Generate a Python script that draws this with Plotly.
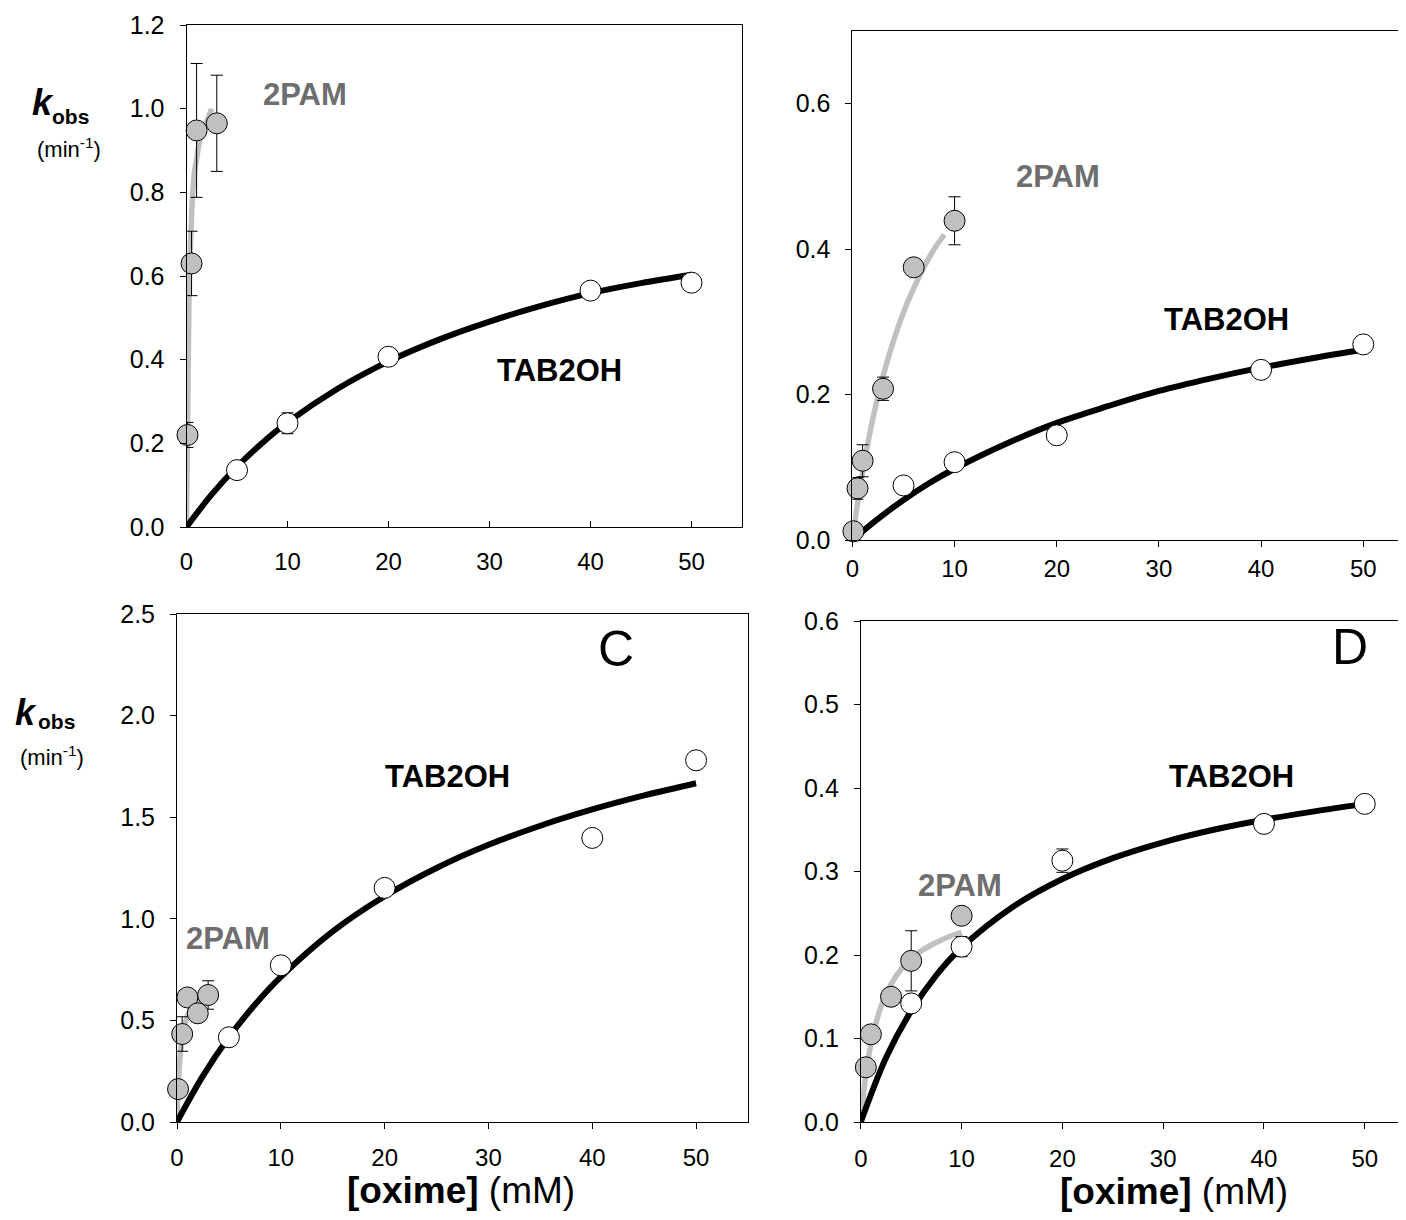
import plotly.graph_objects as go

# The page body has an 8px margin, so the figure is 16px smaller than the window
OFF = 8
W, H = 1406 - 2 * OFF, 1220 - 2 * OFF
FONT = "Liberation Sans, Arial, sans-serif"
PAM_FILL = "#c0c0c0"
PAM_LINE = "#c0c0c0"
PAM_TEXT = "#6e6e6e"


def fx(px):
    return (px - OFF) / W


def fy(py):
    return 1 - (py - OFF) / H


# ---------------- Panel A ----------------
a_pam_x = [0.1, 0.5, 1, 3]
a_pam_y = [0.22, 0.63, 0.948, 0.965]
a_pam_err = [0.03, 0.077, 0.16, 0.115]
a_pam_fit_x = [0, 0.05, 0.1, 0.2, 0.3, 0.45, 0.6, 0.8, 1.0, 1.2, 1.6, 2.0, 2.5]
a_pam_fit_y = [0, 0.12, 0.22, 0.45, 0.61, 0.71, 0.79, 0.85, 0.88, 0.91, 0.95, 0.97, 1.0]
a_tab_x = [5, 10, 20, 40, 50]
a_tab_y = [0.136, 0.248, 0.407, 0.565, 0.584]
a_tab_err = [0, 0.025, 0, 0, 0]
a_tab_fit_x = [0, 2.5, 5, 7.5, 10, 15, 20, 25, 30, 35, 40, 45, 50]
a_tab_fit_y = [0, 0.078, 0.144, 0.201, 0.25, 0.331, 0.396, 0.448, 0.491, 0.528, 0.559, 0.583, 0.603]

# ---------------- Panel B ----------------
b_pam_x = [0.1, 0.5, 1, 3, 6, 10]
b_pam_y = [0.012, 0.071, 0.109, 0.208, 0.375, 0.439]
b_pam_err = [0, 0.015, 0.022, 0.016, 0, 0.033]
b_pam_fit_x = [0, 0.5, 1, 2, 3, 4, 5, 6, 7, 8, 9]
b_pam_fit_y = [0, 0.05, 0.094, 0.167, 0.225, 0.273, 0.313, 0.346, 0.375, 0.4, 0.42]
b_tab_x = [5, 10, 20, 40, 50]
b_tab_y = [0.075, 0.107, 0.144, 0.234, 0.269]
b_tab_err = [0, 0, 0, 0, 0]
b_tab_fit_x = [0, 2.5, 5, 7.5, 10, 15, 20, 25, 30, 35, 40, 45, 50]
b_tab_fit_y = [0, 0.029, 0.055, 0.078, 0.098, 0.132, 0.161, 0.184, 0.205, 0.222, 0.237, 0.25, 0.262]

# ---------------- Panel C ----------------
c_pam_x = [0.1, 0.5, 1, 2, 3]
c_pam_y = [0.162, 0.433, 0.613, 0.535, 0.625]
c_pam_err = [0, 0.085, 0, 0, 0.07]
c_pam_fit_x = [0, 0.1, 0.25, 0.5, 0.75, 1, 1.5, 2, 2.5, 3]
c_pam_fit_y = [0, 0.156, 0.292, 0.412, 0.477, 0.519, 0.568, 0.596, 0.614, 0.627]
c_tab_x = [5, 10, 20, 40, 50]
c_tab_y = [0.417, 0.771, 1.152, 1.398, 1.78]
c_tab_err = [0, 0, 0, 0, 0]
c_tab_fit_x = [0, 2.5, 5, 7.5, 10, 15, 20, 25, 30, 35, 40, 45, 50]
c_tab_fit_y = [0, 0.227, 0.417, 0.577, 0.714, 0.938, 1.111, 1.25, 1.364, 1.458, 1.538, 1.607, 1.667]

# ---------------- Panel D ----------------
d_pam_x = [0.5, 1, 3, 5, 10]
d_pam_y = [0.0655, 0.105, 0.150, 0.193, 0.247]
d_pam_err = [0, 0, 0, 0.036, 0]
d_pam_fit_x = [0, 0.5, 1, 2, 3, 4, 5, 6, 7, 8, 9, 10]
d_pam_fit_y = [0, 0.056, 0.093, 0.138, 0.165, 0.183, 0.196, 0.205, 0.212, 0.218, 0.223, 0.227]
d_tab_x = [5, 10, 20, 40, 50]
d_tab_y = [0.142, 0.21, 0.313, 0.357, 0.381]
d_tab_err = [0, 0.012, 0.014, 0, 0]
d_tab_fit_x = [0, 2.5, 5, 7.5, 10, 15, 20, 25, 30, 35, 40, 45, 50]
d_tab_fit_y = [0, 0.077, 0.133, 0.176, 0.209, 0.257, 0.291, 0.316, 0.335, 0.35, 0.362, 0.372, 0.381]

x_ticks = [0, 10, 20, 30, 40, 50]

panels = [
    dict(name="", xa="x", ya="y",
         pam=(a_pam_x, a_pam_y, a_pam_err, a_pam_fit_x, a_pam_fit_y),
         tab=(a_tab_x, a_tab_y, a_tab_err, a_tab_fit_x, a_tab_fit_y),
         px=(186.5, 742), py=(25, 527), xr=[0, 55], yr=[0, 1.2], dt=0.2,
         xticks="inside", xstand=13, box=True,
         labels=[("2PAM", 11.7, 1.035, PAM_TEXT), ("TAB2OH", 36.9, 0.375, "black")]),
    dict(name="", xa="x2", ya="y2",
         pam=(b_pam_x, b_pam_y, b_pam_err, b_pam_fit_x, b_pam_fit_y),
         tab=(b_tab_x, b_tab_y, b_tab_err, b_tab_fit_x, b_tab_fit_y),
         px=(852.4, 1398), py=(31, 540), xr=[0, 53.4], yr=[0, 0.7], dt=0.2,
         xticks="outside", xstand=1, box=False,
         labels=[("2PAM", 20.1, 0.50, PAM_TEXT), ("TAB2OH", 36.6, 0.303, "black")]),
    dict(name="C", xa="x3", ya="y3",
         pam=(c_pam_x, c_pam_y, c_pam_err, c_pam_fit_x, c_pam_fit_y),
         tab=(c_tab_x, c_tab_y, c_tab_err, c_tab_fit_x, c_tab_fit_y),
         px=(177, 748), py=(614, 1122), xr=[0, 55], yr=[0, 2.5], dt=0.5,
         xticks="outside", xstand=8, box=True,
         labels=[("2PAM", 4.9, 0.905, PAM_TEXT), ("TAB2OH", 26.1, 1.70, "black")],
         letter=(42.3, 2.33)),
    dict(name="D", xa="x4", ya="y4",
         pam=(d_pam_x, d_pam_y, d_pam_err, d_pam_fit_x, d_pam_fit_y),
         tab=(d_tab_x, d_tab_y, d_tab_err, d_tab_fit_x, d_tab_fit_y),
         px=(860.8, 1398), py=(621, 1122), xr=[0, 53.3], yr=[0, 0.6], dt=0.1,
         xticks="outside", xstand=9, box=False,
         labels=[("2PAM", 9.8, 0.283, PAM_TEXT), ("TAB2OH", 36.8, 0.414, "black")],
         letter=(48.5, 0.569)),
]

fig = go.Figure()
annotations = []
layout = {}

for i, p in enumerate(panels):
    xa, ya = p["xa"], p["ya"]
    px_, py_, pe, pfx, pfy = p["pam"]
    tx, ty, te, tfx, tfy = p["tab"]
    # fit curves
    fig.add_trace(go.Scatter(x=pfx, y=pfy, mode="lines", line=dict(color=PAM_LINE, width=5.5, shape="spline"),
                             xaxis=xa, yaxis=ya, hoverinfo="skip"))
    fig.add_trace(go.Scatter(x=tfx, y=tfy, mode="lines", line=dict(color="black", width=6, shape="spline"),
                             xaxis=xa, yaxis=ya, hoverinfo="skip"))
    # points
    fig.add_trace(go.Scatter(x=px_, y=py_, mode="markers",
                             marker=dict(size=21, color=PAM_FILL, line=dict(color="black", width=1)),
                             error_y=dict(type="data", array=pe, color="black", thickness=1, width=6),
                             cliponaxis=False, xaxis=xa, yaxis=ya))
    fig.add_trace(go.Scatter(x=tx, y=ty, mode="markers",
                             marker=dict(size=21, color="white", line=dict(color="black", width=1)),
                             error_y=dict(type="data", array=te, color="black", thickness=1, width=6),
                             cliponaxis=False, xaxis=xa, yaxis=ya))

    suffix = "" if i == 0 else str(i + 1)
    l, r = p["px"]
    t, b = p["py"]
    layout["xaxis" + suffix] = dict(
        domain=[fx(l), fx(r)], range=p["xr"], anchor=ya, tickvals=x_ticks,
        ticks=p["xticks"], ticklen=6, tickcolor="black", showline=True, linecolor="black",
        linewidth=1, mirror=True, showgrid=False, zeroline=False, automargin=False,
        tickfont=dict(family=FONT, size=24, color="black"), ticklabelstandoff=p["xstand"])
    layout["yaxis" + suffix] = dict(
        domain=[fy(b), fy(t)], range=p["yr"], anchor=xa, tick0=0, dtick=p["dt"],
        tickformat=".1f", ticks="outside", ticklen=6, tickcolor="black", showline=True,
        linecolor="black", linewidth=1, mirror=p["box"], showgrid=False, zeroline=False,
        automargin=False,
        tickfont=dict(family=FONT, size=25, color="black"), ticklabelstandoff=10)
    for txt, lx, ly, col in p["labels"]:
        annotations.append(dict(text="<b>%s</b>" % txt, x=lx, y=ly, xref=xa, yref=ya,
                                xanchor="center", yanchor="middle",
                                showarrow=False, font=dict(family=FONT, size=31, color=col)))
    if "letter" in p:
        lx, ly = p["letter"]
        annotations.append(dict(text=p["name"], x=lx, y=ly, xref=xa, yref=ya, showarrow=False,
                                xanchor="center", yanchor="middle",
                                font=dict(family=FONT, size=50, color="black")))

# y-axis titles (k_obs) for left panels
for (kx, ky, ox, oy, mx, my) in [(43, 102, 70, 116, 69, 148), (26, 712, 56, 721, 52, 756)]:
    annotations.append(dict(text="<b><i>k</i></b>", x=fx(kx), y=fy(ky), xref="paper", yref="paper",
                            xanchor="center", yanchor="middle",
                            showarrow=False, font=dict(family=FONT, size=36, color="black")))
    annotations.append(dict(text="<b>obs</b>", x=fx(ox), y=fy(oy), xref="paper", yref="paper",
                            xanchor="center", yanchor="middle",
                            showarrow=False, font=dict(family=FONT, size=21, color="black")))
    annotations.append(dict(text="(min<sup>-1</sup>)", x=fx(mx), y=fy(my), xref="paper", yref="paper",
                            xanchor="center", yanchor="middle",
                            showarrow=False, font=dict(family=FONT, size=22, color="black")))

# x-axis titles for bottom panels
for (cx, cy) in [(461, 1190), (1174, 1191)]:
    annotations.append(dict(text="<b>[oxime]</b> (mM)", x=fx(cx), y=fy(cy), xref="paper", yref="paper",
                            xanchor="center", yanchor="middle",
                            showarrow=False, font=dict(family=FONT, size=37, color="black")))

fig.update_layout(width=W, height=H, margin=dict(l=0, r=0, t=0, b=0, autoexpand=False), showlegend=False,
                  plot_bgcolor="white", paper_bgcolor="white", annotations=annotations, **layout)

fig.write_html("out.html")
